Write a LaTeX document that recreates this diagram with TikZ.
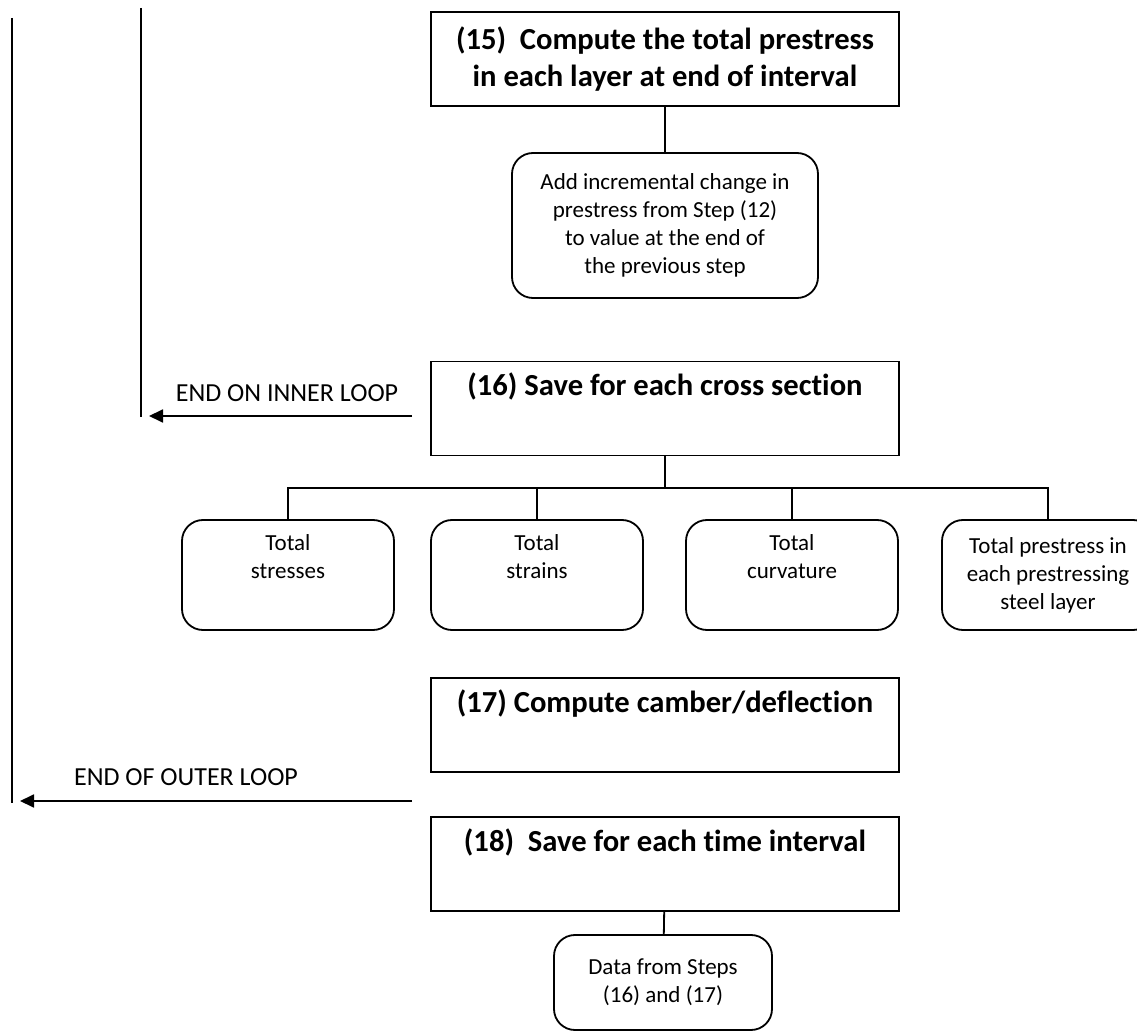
\documentclass[tikz,border=0pt]{standalone}
\usepackage{fontspec}
\setmainfont{Carlito}[Ligatures={NoCommon,NoRare,NoDiscretionary}, Contextuals=NoAlternate]
\usetikzlibrary{arrows.meta}
\tikzset{
	stepbox/.style={draw, line width=0.9pt, minimum width=234pt, minimum height=47pt, inner sep=0pt, align=center, font=\fontsize{15.3}{18.5}\selectfont\bfseries},
	notebox/.style={draw, line width=0.9pt, rounded corners=10.5pt, inner sep=0pt, align=center, font=\fontsize{11.5}{14}\selectfont},
	totalbox/.style={notebox, minimum width=106pt, minimum height=55pt},
	looptext/.style={font=\fontsize{13}{15.5}\selectfont},
	loopline/.style={line width=0.9pt},
	looparrow/.style={line width=0.9pt, -{Triangle[length=7pt,width=6.5pt]}},
	link/.style={line width=0.9pt}
}

\begin{document}
\begin{tikzpicture}[x=0.5pt, y=-0.5pt]
	\useasboundingbox (0,0) rectangle (1137,1032);

	\node[stepbox] (s15) at (665,59) {(15)\ \ Compute the total prestress\\in each layer at end of interval};
	\node[notebox, minimum width=153pt, minimum height=72.5pt] (add) at (665,225.5) {Add incremental change in\\prestress from Step (12)\\to value at the end of\\the previous step};
	\node[stepbox] (s16) at (665,408.5) {(16) Save for each cross section\\\strut};
	\node[totalbox] (stress) at (288,575) {Total\\stresses\\\strut};
	\node[totalbox] (strain) at (537,575) {Total\\strains\\\strut};
	\node[totalbox] (curv) at (792,575) {Total\\curvature\\\strut};
	\node[totalbox] (pre) at (1048,575) {Total prestress in\\each prestressing\\steel layer};
	\node[stepbox] (s17) at (665,725) {(17) Compute camber/deflection\\\strut};
	\node[stepbox] (s18) at (665,864) {(18)\ \ Save for each time interval\\\strut};
	\node[notebox, minimum width=109pt, minimum height=47.5pt] (data) at (663,982.5) {Data from Steps\\(16) and (17)};

	\draw[link] (s15) -- (add);
	\coordinate (bus) at (665,488);
	\draw[link] (s16) -- (bus);
	\draw[link] (stress.north) |- (bus) -| (pre.north);
	\draw[link] (strain.north) -- (strain.north |- bus);
	\draw[link] (curv.north) -- (curv.north |- bus);
	\draw[link] (s18) -- (data);

	\coordinate (innertop) at (141,8);
	\coordinate (innerbot) at (141,417);
	\coordinate (innerfrom) at (412,416);
	\coordinate (innerto) at (149,416);
	\draw[loopline] (innertop) -- (innerbot);
	\draw[looparrow] (innerfrom) -- (innerto);
	\node[looptext] (inner) at (287,393) {END ON INNER LOOP};

	\coordinate (outertop) at (12,18);
	\coordinate (outerbot) at (12,803);
	\coordinate (outerfrom) at (412,801);
	\coordinate (outerto) at (20,801);
	\draw[loopline] (outertop) -- (outerbot);
	\draw[looparrow] (outerfrom) -- (outerto);
	\node[looptext] (outer) at (186,777) {END OF OUTER LOOP};
\end{tikzpicture}
\end{document}
